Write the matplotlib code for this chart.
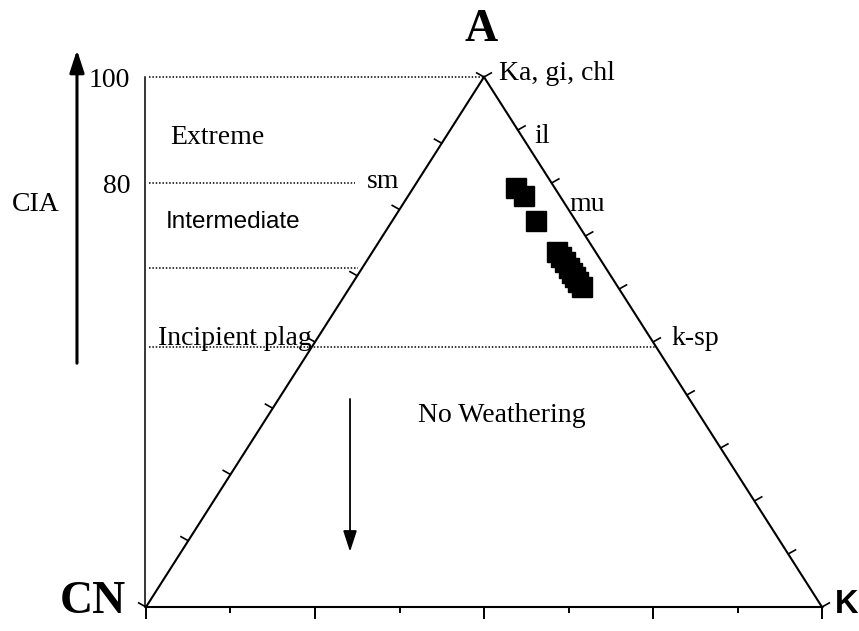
import numpy as np
import matplotlib.pyplot as plt

# A-CN-K compositions (molar %), A = Al2O3, CN = CaO* + Na2O, K = K2O
a_vals = [79.1, 77.6, 72.9, 67.0, 66.0, 65.1, 64.0, 63.0, 62.3, 61.3, 60.4]
k_vals = [15.2, 17.1, 21.3, 27.3, 28.4, 29.4, 30.6, 31.5, 32.3, 33.3, 34.3]
cn_vals = [5.7, 5.3, 5.8, 5.7, 5.6, 5.5, 5.4, 5.5, 5.4, 5.4, 5.3]

# CIA boundaries and where each dotted guide stops (in x of the triangle)
cia_levels = [100, 80, 64, 49]
cia_ticklabels = ['100', '80', '', '']
guide_end_x = [0.5, 0.309, 0.314, 0.755]

# mineral labels along the edges: (text, x, y baseline)
minerals = [
    ('Ka, gi, chl', 0.522, 0.994),
    ('il', 0.575, 0.876),
    ('mu', 0.627, 0.747),
    ('k-sp', 0.777, 0.494),
    ('sm', 0.327, 0.791),
]

# tick divisions on each edge
n_left, n_right, n_base = 8, 10, 8

serif = ['Liberation Serif', 'DejaVu Serif']
narrow = ['Liberation Sans Narrow', 'Liberation Sans', 'DejaVu Sans']


def to_xy(a, cn, k):
    a, cn, k = np.asarray(a, float), np.asarray(cn, float), np.asarray(k, float)
    tot = a + cn + k
    return (k + a / 2) / tot, a / tot


W, H = 859, 631
fig = plt.figure(figsize=(W / 100, H / 100), dpi=100)
ax = fig.add_axes([0, 0, 1, 1])
x0, x1 = -146 / 676, (W - 146) / 676
y0, y1 = -24 / 530, 607 / 530
ax.set_xlim(x0, x1)
ax.set_ylim(y0, y1)
ax.axis('off')

# data units per pixel, used for tick lengths
sx = (x1 - x0) / W
sy = (y1 - y0) / H

# triangle outline
ax.plot([0, 0.5, 1, 0], [0, 1, 0, 0], color='black', lw=1.5, solid_joinstyle='miter')

# CIA scale line on the left
ax.plot([-0.0022, -0.0022], [0, 1], color='black', lw=1.1)


def tick(x, y, dx, dy, lw=1.2):
    ax.plot([x, x + dx * sx], [y, y + dy * sy], color='black', lw=lw,
            solid_capstyle='butt')


# left edge (CN-A) ticks point up-left
for i in range(n_left + 1):
    t = i / n_left
    tick(t / 2, t, -8, 4.5)
# right edge (A-K) ticks point up-right
for i in range(n_right + 1):
    t = i / n_right
    tick(1 - t / 2, t, 8, 4.5)
# base ticks, alternating long and short
for i in range(n_base + 1):
    tick(i / n_base, 0, 0, -12 if i % 2 == 0 else -6, lw=1.4)

# CIA guide lines
for lvl, xe, lab in zip(cia_levels, guide_end_x, cia_ticklabels):
    ax.plot([0.004, xe], [lvl / 100, lvl / 100], color='black', lw=1.1,
            linestyle=(0, (1, 1.2)))
    if lab:
        ax.text(-0.023, lvl / 100 - 0.018, lab, ha='right', va='baseline',
                fontsize=20, family=serif)

# samples
px, py = to_xy(a_vals, cn_vals, k_vals)
ax.plot(px, py, 's', color='black', ms=14.5, mec='black', linestyle='none')

# apex labels
ax.text(0.4956, 1.0887, 'A', ha='center', va='center', fontsize=33,
        fontweight='bold', family=serif)
ax.text(-0.0784, 0.0085, 'CN', ha='center', va='center', fontsize=33,
        fontweight='bold', family=serif)
ax.text(1.0185, 0.004, 'K', ha='left', va='center', fontsize=23.5,
        fontweight='bold', family=narrow)

for name, mx, my in minerals:
    ax.text(mx, my, name, ha='left', va='baseline', fontsize=20, family=serif)

# weathering zones
ax.text(0.0355, 0.8736, 'Extreme', ha='left', va='baseline', fontsize=20,
        family=serif)
ax.text(0.0296, 0.7157, 'Intermediate', ha='left', va='baseline', fontsize=17.5,
        family=narrow)
ax.text(0.0178, 0.4943, 'Incipient plag', ha='left', va='baseline', fontsize=20,
        family=serif)
ax.text(0.4024, 0.3496, 'No Weathering', ha='left', va='baseline', fontsize=20,
        family=serif)

# CIA axis arrow
ax.annotate('', xy=(-0.1021, 1.051), xytext=(-0.1021, 0.46),
            arrowprops=dict(arrowstyle='-|>,head_length=0.4,head_width=0.13',
                            lw=2.2, color='black', mutation_scale=34,
                            shrinkA=0, shrinkB=0))
ax.text(-0.1988, 0.7477, 'CIA', ha='left', va='baseline', fontsize=20,
        family=serif)

# decreasing weathering arrow
ax.annotate('', xy=(0.3018, 0.1043), xytext=(0.3018, 0.3925),
            arrowprops=dict(arrowstyle='-|>,head_length=0.4,head_width=0.13',
                            lw=1.3, color='black', mutation_scale=32,
                            shrinkA=0, shrinkB=0))

fig.savefig('out.png', dpi=100)
